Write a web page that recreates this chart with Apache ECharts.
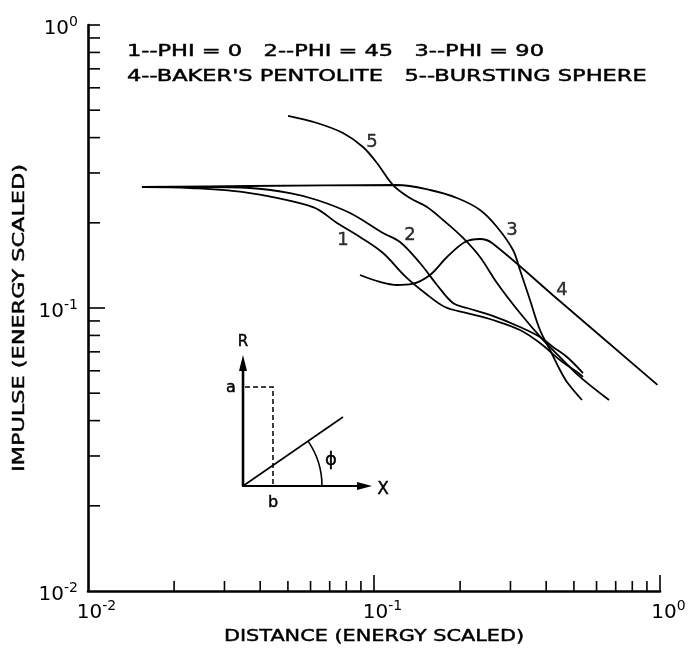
<!DOCTYPE html>
<html>
<head>
<meta charset="utf-8">
<script src="https://cdn.jsdelivr.net/npm/echarts@6/dist/echarts.min.js"></script>
<style>
  html, body { margin: 0; padding: 0; background: #fff; }
  #chart { width: 691px; height: 653px; }
</style>
</head>
<body>
<div id="chart"></div>
<script>
// Scaled impulse vs scaled distance (log-log)
const curvePhi0 = [
  [0.01544, 0.2677], [0.02273, 0.2655], [0.03684, 0.2548], [0.06119, 0.2274],
  [0.07423, 0.1997], [0.08933, 0.1782], [0.1075, 0.1564], [0.1283, 0.1297],
  [0.1508, 0.1130], [0.1771, 0.1008], [0.2115, 0.0960], [0.2607, 0.0907],
  [0.3239, 0.0836], [0.3805, 0.0752], [0.4470, 0.0655], [0.5126, 0.0594],
  [0.5380, 0.0571]
];
const curvePhi45 = [
  [0.01544, 0.2677], [0.02464, 0.2677], [0.03684, 0.2655], [0.05086, 0.2548],
  [0.06319, 0.2408], [0.08245, 0.2166], [0.1075, 0.1841], [0.1233, 0.1711],
  [0.1448, 0.1442], [0.1661, 0.1206], [0.1889, 0.1041], [0.2115, 0.1000],
  [0.2544, 0.0945], [0.3239, 0.0857], [0.3805, 0.0790], [0.4226, 0.0728],
  [0.4728, 0.0671], [0.5380, 0.0589]
];
const curvePhi90 = [
  [0.01544, 0.2677], [0.03684, 0.2698], [0.1203, 0.2720], [0.1570, 0.2612],
  [0.1951, 0.2447], [0.2348, 0.2220], [0.2692, 0.1933], [0.3062, 0.1603],
  [0.3239, 0.1362], [0.3511, 0.1067], [0.3805, 0.0836], [0.4125, 0.0711],
  [0.4470, 0.0604], [0.4728, 0.0548], [0.5337, 0.0473]
];
const curveBaker = [
  [0.08933, 0.1308], [0.1050, 0.1236], [0.1203, 0.1206], [0.1358, 0.1216],
  [0.1570, 0.1308], [0.1800, 0.1514], [0.2081, 0.1711], [0.2348, 0.1753],
  [0.2586, 0.1697], [0.4470, 0.1056], [0.98, 0.0535]
];
const curveSphere = [
  [0.05005, 0.4770], [0.06319, 0.4505], [0.0779, 0.4152], [0.09151, 0.3706],
  [0.1024, 0.3254], [0.1165, 0.2720], [0.1336, 0.2447], [0.1532, 0.2274],
  [0.1743, 0.2047], [0.2048, 0.1768], [0.2348, 0.1514], [0.2692, 0.1226],
  [0.3239, 0.0960], [0.3899, 0.0771], [0.4470, 0.0671], [0.5252, 0.0571],
  [0.6634, 0.0473]
];

// curve numbers and where they sit
const curveTags = ['1', '2', '3', '4', '5'];
const curveTagAt = [
  [0.0779, 0.1739], [0.1336, 0.1811], [0.3038, 0.1886], [0.4543, 0.1158], [0.0984, 0.3859]
];

// axis extents and tick values
const axisMin = 0.01;
const axisMax = 1;
const decadeTicks = [0.1, 1];
const minorTicks = [
  0.02, 0.03, 0.04, 0.05, 0.06, 0.07, 0.08, 0.09,
  0.2, 0.3, 0.4, 0.5, 0.6, 0.7, 0.8, 0.9
];

const legendLines = [
  '1--PHI = 0   2--PHI = 45   3--PHI = 90',
  "4--BAKER'S PENTOLITE   5--BURSTING SPHERE"
];
const xTitle = 'DISTANCE (ENERGY SCALED)';
const yTitle = 'IMPULSE (ENERGY SCALED)';

const FONT = '"DejaVu Sans", "Liberation Sans", sans-serif';
const INK = '#000';

const chart = echarts.init(document.getElementById('chart'), null, { renderer: 'canvas' });

function powLabel(v) {
  const e = Math.round(Math.log10(v));
  return '{b|10}{s|' + e + '}';
}
const powRich = {
  b: { fontSize: 20, fontFamily: FONT, color: INK },
  s: { fontSize: 14, fontFamily: FONT, color: INK, padding: [0, 0, 14, 0] }
};

const tickValues = decadeTicks.concat(minorTicks);
const isDecade = v => decadeTicks.indexOf(v) >= 0;

function lineSeries(name, data) {
  return {
    name, type: 'line', data,
    showSymbol: false, symbol: 'none', smooth: 0.35,
    lineStyle: { color: INK, width: 1.8 },
    silent: true, z: 3
  };
}

// lettering: slightly heavier strokes than the plain face
function letter(text, x, y, size, extra) {
  return Object.assign({
    type: 'text', x, y,
    style: {
      text, font: size + 'px ' + FONT, fill: INK,
      stroke: INK, lineWidth: 0.45,
      align: 'center', verticalAlign: 'middle'
    }
  }, extra || {});
}

const legendRow = (text, y) => {
  const el = letter(text, 127, y, 15, { scaleX: 1.5 });
  el.style.align = 'left';
  return el;
};

const option = {
  animation: false,
  backgroundColor: '#fff',
  grid: { left: 88, top: 25, width: 572, height: 566, outerBoundsMode: 'none' },
  xAxis: {
    type: 'log', logBase: 10, min: axisMin, max: axisMax,
    axisLine: { show: true, lineStyle: { color: INK, width: 2.6 } },
    axisTick: { show: false },
    splitLine: { show: false },
    minorTick: { show: false },
    axisLabel: {
      margin: 8, formatter: powLabel, rich: powRich, padding: [0, 0, 0, 17],
      hideOverlap: false, showMinLabel: true, showMaxLabel: true
    }
  },
  yAxis: {
    type: 'log', logBase: 10, min: axisMin, max: axisMax,
    axisLine: { show: true, lineStyle: { color: INK, width: 2.6 } },
    axisTick: { show: false },
    splitLine: { show: false },
    minorTick: { show: false },
    axisLabel: {
      margin: 10, formatter: powLabel, rich: powRich, padding: [8, 0, 0, 0],
      hideOverlap: false, showMinLabel: true, showMaxLabel: true
    }
  },
  series: [
    lineSeries('PHI = 0', curvePhi0),
    lineSeries('PHI = 45', curvePhi45),
    lineSeries('PHI = 90', curvePhi90),
    lineSeries("BAKER'S PENTOLITE", curveBaker),
    lineSeries('BURSTING SPHERE', curveSphere),
    {
      type: 'scatter', silent: true, symbolSize: 0,
      data: curveTags.map((t, i) => ({ name: t, value: curveTagAt[i] })),
      label: {
        show: true, position: 'inside', formatter: p => p.name,
        fontFamily: FONT, fontSize: 18, color: INK,
        textBorderColor: INK, textBorderWidth: 0.4
      },
      z: 4
    },
    {
      // inward ticks along the distance axis
      type: 'custom', silent: true, clip: false,
      data: tickValues.map(v => [v, axisMin]),
      renderItem: (params, api) => {
        const v = api.value(0);
        const p = api.coord([v, api.value(1)]);
        const len = isDecade(v) ? 16 : 10;
        return {
          type: 'line',
          shape: { x1: p[0], y1: p[1], x2: p[0], y2: p[1] - len },
          style: { stroke: INK, lineWidth: 1.6 }
        };
      },
      z: 5
    },
    {
      // inward ticks along the impulse axis
      type: 'custom', silent: true, clip: false,
      data: tickValues.map(v => [axisMin, v]),
      renderItem: (params, api) => {
        const v = api.value(1);
        const p = api.coord([api.value(0), v]);
        const len = (v === 0.1) ? 17 : 12;
        return {
          type: 'line',
          shape: { x1: p[0], y1: p[1], x2: p[0] + len, y2: p[1] },
          style: { stroke: INK, lineWidth: 1.6 }
        };
      },
      z: 5
    }
  ],
  graphic: [
    legendRow(legendLines[0], 52),
    legendRow(legendLines[1], 77),
    letter(xTitle, 374, 637, 16, { scaleX: 1.3 }),
    letter(yTitle, 20, 318, 16, { rotation: Math.PI / 2, scaleX: 1.4 }),

    // coordinate sketch: R up, X right, ray at angle phi
    { type: 'line', shape: { x1: 243, y1: 486, x2: 243, y2: 366 }, style: { stroke: INK, lineWidth: 2.6 } },
    { type: 'polygon', shape: { points: [[239, 371], [247, 371], [243, 355]] }, style: { fill: INK } },
    { type: 'line', shape: { x1: 242, y1: 486, x2: 362, y2: 486 }, style: { stroke: INK, lineWidth: 2.2 } },
    { type: 'polygon', shape: { points: [[357, 482], [357, 490], [372, 486]] }, style: { fill: INK } },
    { type: 'line', shape: { x1: 243, y1: 486, x2: 343, y2: 417 }, style: { stroke: INK, lineWidth: 1.6 } },
    { type: 'polyline', shape: { points: [[245, 387], [273, 387], [273, 486]] },
      style: { stroke: INK, lineWidth: 1.5, lineDash: [5, 3], fill: null } },
    { type: 'arc', shape: { cx: 243, cy: 486, r: 79, startAngle: -0.604, endAngle: 0, clockwise: true },
      style: { stroke: INK, lineWidth: 1.6, fill: null } },
    letter('R', 243, 342, 15),
    letter('a', 231, 388, 16),
    letter('b', 273, 503, 16),
    letter('X', 383, 490, 17),
    letter('ϕ', 331, 460, 18)
  ]
};

chart.setOption(option);
</script>
</body>
</html>
